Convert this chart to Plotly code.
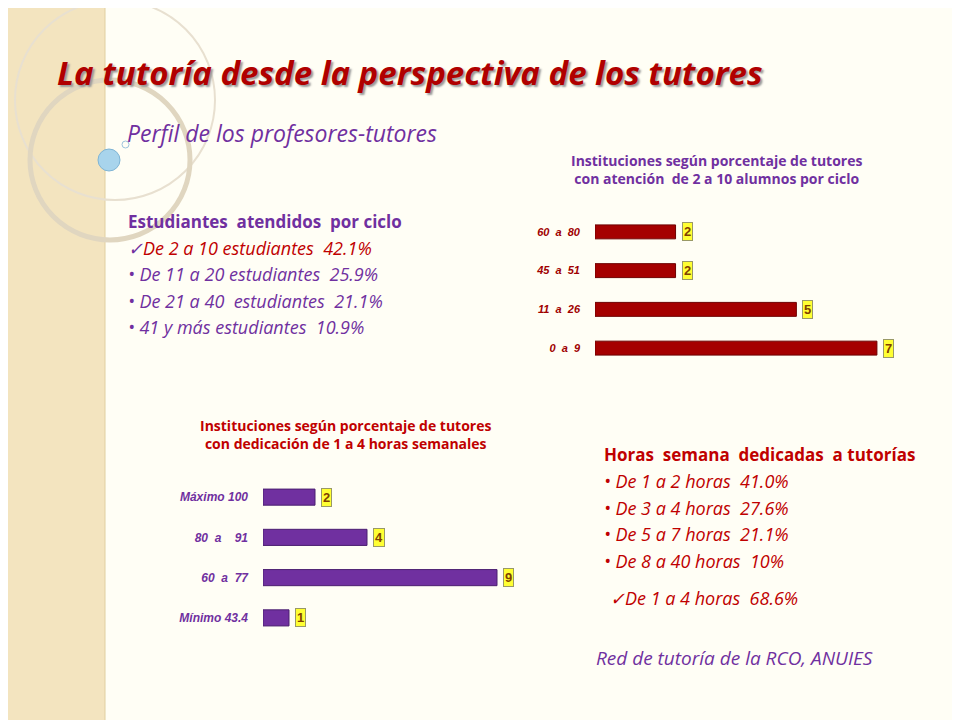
import plotly.graph_objects as go

top_cats = ["0  a  9", "11  a  26", "45  a  51", "60  a  80"]
top_vals = [7, 5, 2, 2]
bot_cats = ["Mínimo 43.4", "60  a  77", "80  a    91", "Máximo 100"]
bot_vals = [1, 9, 4, 2]

RED = "#A50000"
PURPLE = "#7030A0"
W, H = 960, 720
OFF = 8

def px(x): return (x - OFF) / W
def py(y): return 1 - (y - OFF) / H

fig = go.Figure()
fig.add_trace(go.Bar(y=top_cats, x=top_vals, orientation="h", width=0.36,
                     marker=dict(color=RED, line=dict(color="#6E0000", width=1)),
                     xaxis="x", yaxis="y", hoverinfo="skip"))
fig.add_trace(go.Bar(y=bot_cats, x=bot_vals, orientation="h", width=0.4,
                     marker=dict(color=PURPLE, line=dict(color="#4B1F70", width=1)),
                     xaxis="x2", yaxis="y2", hoverinfo="skip"))

ann = []
for c, v in zip(top_cats, top_vals):
    ann.append(dict(x=v, y=c, xref="x", yref="y", text=f"<b>{v}</b>", showarrow=False,
                    xanchor="left", xshift=6, bgcolor="#FFFF33", bordercolor="#999966",
                    borderwidth=1, borderpad=1, font=dict(size=13, color="#7F3F00", family="Arial")))
for c, v in zip(bot_cats, bot_vals):
    ann.append(dict(x=v, y=c, xref="x2", yref="y2", text=f"<b>{v}</b>", showarrow=False,
                    xanchor="left", xshift=6, bgcolor="#FFFF33", bordercolor="#999966",
                    borderwidth=1, borderpad=1, font=dict(size=13, color="#7F3F00", family="Arial")))

def txt(x, y, s, size, color, bold=False, italic=True, anchor="left", shadow=None):
    d = dict(x=px(x), y=py(y), xref="paper", yref="paper", text=s, showarrow=False,
             xanchor=anchor, yanchor="middle", align=anchor if anchor != "center" else "center",
             font=dict(size=size, color=color, family="Open Sans",
                       weight="bold" if bold else "normal",
                       style="italic" if italic else "normal"))
    if shadow:
        d["font"]["shadow"] = shadow
    ann.append(d)

txt(55, 72, "La tutoría desde la perspectiva de los tutores", 33, "#B00000", bold=True,
    shadow="2px 2px 2px #999")
txt(125, 133, "Perfil de los profesores-tutores", 23, PURPLE)
txt(126, 221, "Estudiantes  atendidos  por ciclo", 17, PURPLE, bold=True, italic=False)
txt(126, 248, "✓<span style='color:#C00000'>De 2 a 10 estudiantes  42.1%</span>", 18, PURPLE)
txt(126, 274, "• De 11 a 20 estudiantes  25.9%", 18, PURPLE)
txt(126, 301, "• De 21 a 40  estudiantes  21.1%", 18, PURPLE)
txt(126, 327, "• 41 y más estudiantes  10.9%", 18, PURPLE)

txt(716, 170, "<b>Instituciones según porcentaje de tutores<br>con atención  de 2 a 10 alumnos por ciclo</b>",
    14, PURPLE, italic=False, anchor="center")
txt(345, 434, "<b>Instituciones según porcentaje de tutores<br>con dedicación de 1 a 4 horas semanales</b>",
    14, "#C00000", italic=False, anchor="center")

txt(602, 454, "Horas  semana  dedicadas  a tutorías", 17, "#C00000", bold=True, italic=False)
txt(602, 481, "• De 1 a 2 horas  41.0%", 18, "#C00000")
txt(602, 508, "• De 3 a 4 horas  27.6%", 18, "#C00000")
txt(602, 534, "• De 5 a 7 horas  21.1%", 18, "#C00000")
txt(602, 561, "• De 8 a 40 horas  10%", 18, "#C00000")
txt(608, 598, "✓De 1 a 4 horas  68.6%", 18, "#C00000")
txt(594, 658, "Red de tutoría de la RCO, ANUIES", 19, PURPLE)

shapes = [
    dict(type="rect", xref="paper", yref="paper", x0=0, x1=px(105), y0=0, y1=1,
         fillcolor="#F3E4BF", line=dict(width=0), layer="below"),
    dict(type="line", xref="paper", yref="paper", x0=px(105), x1=px(105), y0=0, y1=1,
         line=dict(color="#E0CFA0", width=1), layer="below"),
    dict(type="circle", xref="paper", yref="paper", x0=px(15), x1=px(215), y0=py(200), y1=py(0),
         line=dict(color="#E8E0D0", width=2), layer="below"),
    dict(type="circle", xref="paper", yref="paper", x0=px(30), x1=px(190), y0=py(240), y1=py(80),
         line=dict(color="#E0D6C0", width=5), layer="below"),
    dict(type="circle", xref="paper", yref="paper", x0=px(98), x1=px(120), y0=py(171), y1=py(149),
         fillcolor="#A8D4EC", line=dict(color="#7FB4D4", width=1)),
    dict(type="circle", xref="paper", yref="paper", x0=px(122), x1=px(129), y0=py(148), y1=py(141),
         line=dict(color="#9CC4DC", width=1)),
]

fig.update_layout(
    width=W, height=H, margin=dict(l=0, r=0, t=0, b=0),
    paper_bgcolor="#FFFEF5", plot_bgcolor="rgba(0,0,0,0)", showlegend=False,
    xaxis=dict(domain=[px(595), px(889)], range=[0, 7.3], visible=False),
    yaxis=dict(domain=[py(367.5), py(212.5)], anchor="x", showline=False, showgrid=False,
               ticks="", ticklabelstandoff=14,
               tickfont=dict(size=11, color="#A00000", family="Arial", weight="bold", style="italic")),
    xaxis2=dict(domain=[px(263), px(523)], range=[0, 10], visible=False, anchor="y2"),
    yaxis2=dict(domain=[py(638), py(477)], anchor="x2", showline=False, showgrid=False,
                ticks="", ticklabelstandoff=14,
                tickfont=dict(size=12, color=PURPLE, family="Arial", weight="bold", style="italic")),
    annotations=ann, shapes=shapes,
)
fig.write_html("out.html")
